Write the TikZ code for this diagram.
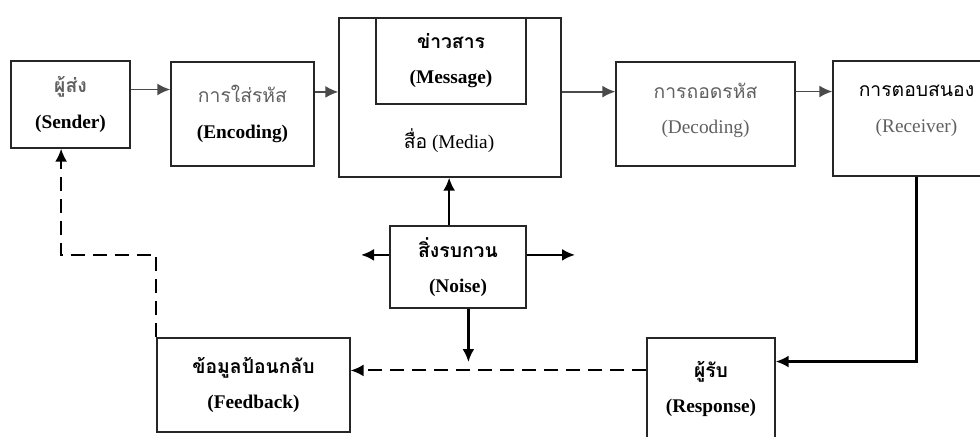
\documentclass[tikz,border=0pt]{standalone}
\usepackage{fontspec}
\setmainfont{Liberation Serif}
\newfontfamily\thai[Script=Thai]{Loma}
\usetikzlibrary{arrows.meta}

\definecolor{linegray}{HTML}{4A4A4A}
\definecolor{textgray}{HTML}{606060}

\tikzset{
  box/.style={draw=black!85, line width=0.8pt, align=center, inner sep=0pt,
    font=\fontsize{11}{13}\selectfont},
  arr/.style={-{Latex[length=2.6mm,width=2.4mm]}, line width=1pt, draw=linegray},
  darr/.style={-{Latex[length=2.6mm,width=2.4mm]}, line width=1.3pt, draw=black},
  fbline/.style={-{Latex[length=2.6mm,width=2.4mm]}, line width=1.1pt, draw=black,
    dash pattern=on 0.28cm off 0.16cm},
}

\begin{document}
\begin{tikzpicture}[x=0.02cm, y=-0.02cm]
\useasboundingbox (0,0) rectangle (980,436);

% top row
\node[box, minimum width=2.38cm, minimum height=1.74cm] (sender) at (70.5,104.5)
  {{\thai\bfseries\color{textgray}ผู้ส่ง}\\[7pt]\textbf{(Sender)}};
\node[box, minimum width=2.86cm, minimum height=2.08cm] (encode) at (242.5,114)
  {{\thai\color{textgray}การใส่รหัส}\\[7pt]\textbf{(Encoding)}};
\node[box, minimum width=4.44cm, minimum height=3.18cm] (media) at (450,97.5) {};
\node[box, minimum width=3.00cm, minimum height=1.72cm] (message) at (451,61)
  {{\thai\bfseries ข่าวสาร}\\[7pt]\textbf{(Message)}};
\node[font=\fontsize{11}{13}\selectfont] (medialabel) at (449,141)
  {{\thai สื่อ} (Media)};
\node[box, minimum width=3.58cm, minimum height=2.08cm] (decode) at (705.5,114)
  {{\thai\color{textgray}การถอดรหัส}\\[7pt]{\color{textgray}(Decoding)}\\[-6pt]};
\node[box, minimum width=3.34cm, minimum height=2.30cm] (receiver) at (916.5,118.5)
  {{\thai การตอบสนอง}\\[7pt]{\color{textgray}(Receiver)}\\[-2pt]};

% noise
\node[box, minimum width=2.72cm, minimum height=1.64cm] (noise) at (458,267)
  {{\thai\bfseries สิ่งรบกวน}\\[7pt]\textbf{(Noise)}};
\coordinate (noiseL) at (361,255);
\coordinate (noiseR) at (575,255);
\coordinate (noiseD) at (468,362);

% bottom row
\node[box, minimum width=3.86cm, minimum height=1.88cm] (feedback) at (253.5,385)
  {{\thai\bfseries ข้อมูลป้อนกลับ}\\[7pt]\textbf{(Feedback)}};
\node[box, minimum width=2.56cm, minimum height=2.04cm] (response) at (711,389)
  {{\thai\bfseries ผู้รับ}\\[7pt]\textbf{(Response)}};

% flow
\draw[arr] (sender.14) -- (sender.14 -| encode.west);
\draw[arr] (encode.17) -- (encode.17 -| media.west);
\draw[arr] (media.3) -- (media.3 -| decode.west);
\draw[arr] (decode.14) -- (decode.14 -| receiver.west);
\draw[darr] (receiver.south) |- (response.23);

% noise arrows
\draw[darr] (noise.102) -- (noise.102 |- media.south);
\draw[darr] (noise.170) -- (noise.170 -| noiseL);
\draw[darr] (noise.10) -- (noise.10 -| noiseR);
\draw[darr] (noise.-76) -- (noise.-76 |- noiseD);

% feedback
\draw[fbline] (response.164) -- (response.164 -| feedback.east);
\draw[fbline] (feedback.north west) -- (feedback.north west |- noise.170) -| (sender.-102);
\end{tikzpicture}
\end{document}
